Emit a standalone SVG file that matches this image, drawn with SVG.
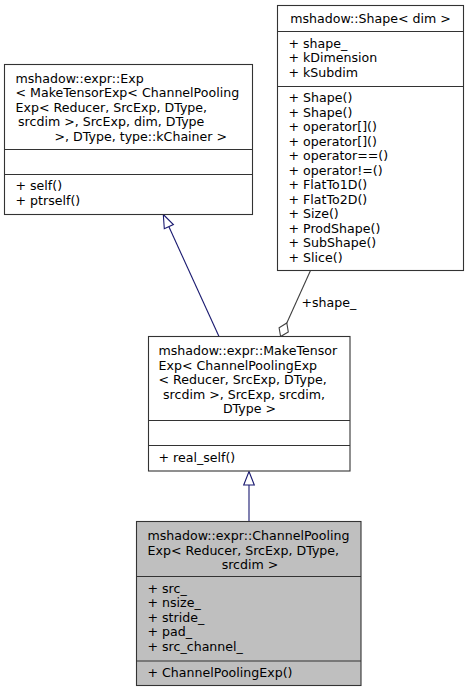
<svg xmlns="http://www.w3.org/2000/svg" width="469" height="692" viewBox="0 0 469 692">
<style>
text{font-family:"DejaVu Sans","Liberation Sans",sans-serif;font-size:12.6px;fill:#000}
.box{fill:#fff;stroke:#333;stroke-width:1.1}
.cur{fill:#bfbfbf;stroke:#333;stroke-width:1.1}
.sep{stroke:#333;stroke-width:1.1;fill:none}
.inh{stroke:#191970;stroke-width:1.1;fill:none}
.inhh{stroke:#191970;stroke-width:1.1;fill:#fff}
.agg{stroke:#404040;stroke-width:1.1;fill:none}
.aggh{stroke:#404040;stroke-width:1.1;fill:#fff}
</style>
<rect width="469" height="692" fill="#fff"/>
<g id="connectors">
  <line class="inh" x1="219" y1="336.5" x2="168.8" y2="226.6"/>
  <polygon class="inhh" points="163.3,214.5 173.4,224.5 164.3,228.7"/>
  <line class="inh" x1="249" y1="521.5" x2="249" y2="485"/>
  <polygon class="inhh" points="249,471.5 254.3,485 243.7,485"/>
  <line class="agg" x1="310.5" y1="270.5" x2="286.8" y2="323"/>
  <polygon class="aggh" points="280.6,336.5 279.1,327.8 286.8,323 288.3,331.9"/>
  <text x="301.5" y="307">+shape_</text>
</g>
<g id="node-exp">
  <rect class="box" x="4.5" y="64.5" width="248" height="150"/>
  <line class="sep" x1="4.5" y1="149.5" x2="252.5" y2="149.5"/>
  <line class="sep" x1="4.5" y1="174.5" x2="252.5" y2="174.5"/>
  <text x="15.5" y="82.8">mshadow::expr::Exp</text>
  <text x="15.5" y="97.3">&lt; MakeTensorExp&lt; ChannelPooling</text>
  <text x="15.5" y="111.8">Exp&lt; Reducer, SrcExp, DType,</text>
  <text x="18" y="126.3">srcdim &gt;, SrcExp, dim, DType</text>
  <text x="54.5" y="140.8">&gt;, DType, type::kChainer &gt;</text>
  <text x="15.5" y="190">+ self()</text>
  <text x="15.5" y="204.5">+ ptrself()</text>
</g>
<g id="node-shape">
  <rect class="box" x="277.5" y="5.5" width="186" height="265"/>
  <line class="sep" x1="277.5" y1="31.5" x2="463.5" y2="31.5"/>
  <line class="sep" x1="277.5" y1="86.5" x2="463.5" y2="86.5"/>
  <text x="370.5" y="23.3" text-anchor="middle">mshadow::Shape&lt; dim &gt;</text>
  <text x="288.5" y="47.8">+ shape_</text>
  <text x="288.5" y="62.3">+ kDimension</text>
  <text x="288.5" y="76.8">+ kSubdim</text>
  <text x="288.5" y="102.3">+ Shape()</text>
  <text x="288.5" y="116.8">+ Shape()</text>
  <text x="288.5" y="131.3">+ operator[]()</text>
  <text x="288.5" y="145.8">+ operator[]()</text>
  <text x="288.5" y="160.3">+ operator==()</text>
  <text x="288.5" y="174.8">+ operator!=()</text>
  <text x="288.5" y="189.3">+ FlatTo1D()</text>
  <text x="288.5" y="203.8">+ FlatTo2D()</text>
  <text x="288.5" y="218.3">+ Size()</text>
  <text x="288.5" y="232.8">+ ProdShape()</text>
  <text x="288.5" y="247.3">+ SubShape()</text>
  <text x="288.5" y="261.8">+ Slice()</text>
</g>
<g id="node-maketensor">
  <rect class="box" x="148.5" y="336.5" width="201.5" height="134.5"/>
  <line class="sep" x1="148.5" y1="420.5" x2="350" y2="420.5"/>
  <line class="sep" x1="148.5" y1="445.5" x2="350" y2="445.5"/>
  <text x="158.5" y="355">mshadow::expr::MakeTensor</text>
  <text x="158.5" y="369.5">Exp&lt; ChannelPoolingExp</text>
  <text x="158.5" y="384">&lt; Reducer, SrcExp, DType,</text>
  <text x="163" y="398.5">srcdim &gt;, SrcExp, srcdim,</text>
  <text x="249.5" y="413" text-anchor="middle">DType &gt;</text>
  <text x="158.5" y="461.7">+ real_self()</text>
</g>
<g id="node-channelpooling">
  <rect class="cur" x="136.5" y="521.5" width="224.5" height="164"/>
  <line class="sep" x1="136.5" y1="576.5" x2="361" y2="576.5"/>
  <line class="sep" x1="136.5" y1="661" x2="361" y2="661"/>
  <text x="147.5" y="540">mshadow::expr::ChannelPooling</text>
  <text x="147.5" y="554.5">Exp&lt; Reducer, SrcExp, DType,</text>
  <text x="250" y="569" text-anchor="middle">srcdim &gt;</text>
  <text x="147.5" y="592.8">+ src_</text>
  <text x="147.5" y="607.3">+ nsize_</text>
  <text x="147.5" y="621.8">+ stride_</text>
  <text x="147.5" y="636.3">+ pad_</text>
  <text x="147.5" y="650.8">+ src_channel_</text>
  <text x="147.5" y="677">+ ChannelPoolingExp()</text>
</g>
</svg>
